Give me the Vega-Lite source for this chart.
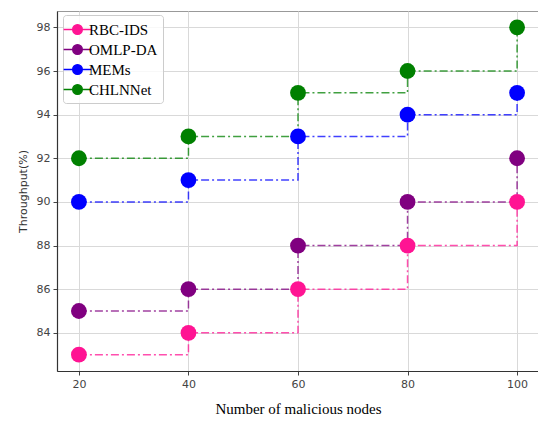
{
  "$schema": "https://vega.github.io/schema/vega-lite/v6.json",
  "width": 482,
  "height": 360,
  "autosize": {"type": "none"},
  "padding": {"left": 57, "top": 11, "right": 0, "bottom": 51},
  "background": "white",
  "config": {
    "view": {"stroke": "#999999", "strokeWidth": 1},
    "axis": {
      "labelFont": "DejaVu Sans", "labelFontSize": 11, "labelColor": "#444444",
      "tickColor": "#444444", "tickSize": 4, "domainColor": "#333333", "domainWidth": 1.2,
      "gridColor": "#d9d9d9", "gridWidth": 1
    }
  },
  "data": {
    "values": [
      {"nodes": 20, "method": "RBC-IDS", "throughput": 83},
      {"nodes": 40, "method": "RBC-IDS", "throughput": 84},
      {"nodes": 60, "method": "RBC-IDS", "throughput": 86},
      {"nodes": 80, "method": "RBC-IDS", "throughput": 88},
      {"nodes": 100, "method": "RBC-IDS", "throughput": 90},
      {"nodes": 20, "method": "OMLP-DA", "throughput": 85},
      {"nodes": 40, "method": "OMLP-DA", "throughput": 86},
      {"nodes": 60, "method": "OMLP-DA", "throughput": 88},
      {"nodes": 80, "method": "OMLP-DA", "throughput": 90},
      {"nodes": 100, "method": "OMLP-DA", "throughput": 92},
      {"nodes": 20, "method": "MEMs", "throughput": 90},
      {"nodes": 40, "method": "MEMs", "throughput": 91},
      {"nodes": 60, "method": "MEMs", "throughput": 93},
      {"nodes": 80, "method": "MEMs", "throughput": 94},
      {"nodes": 100, "method": "MEMs", "throughput": 95},
      {"nodes": 20, "method": "CHLNNet", "throughput": 92},
      {"nodes": 40, "method": "CHLNNet", "throughput": 93},
      {"nodes": 60, "method": "CHLNNet", "throughput": 95},
      {"nodes": 80, "method": "CHLNNet", "throughput": 96},
      {"nodes": 100, "method": "CHLNNet", "throughput": 98}
    ]
  },
  "encoding": {
    "x": {
      "field": "nodes", "type": "quantitative",
      "scale": {"domain": [16, 104], "nice": false, "zero": false},
      "axis": {"values": [20, 40, 60, 80, 100], "title": "Number of malicious nodes",
        "titleFont": "Liberation Serif", "titleFontSize": 15, "titleFontWeight": "normal",
        "titleColor": "#000000", "titlePadding": 12, "labelPadding": 3}
    },
    "y": {
      "field": "throughput", "type": "quantitative",
      "scale": {"domain": [82.25, 98.75], "nice": false, "zero": false},
      "axis": {"values": [84, 86, 88, 90, 92, 94, 96, 98], "title": "Throughput(%)",
        "titleFont": "DejaVu Sans", "titleFontSize": 11, "titleFontWeight": "normal",
        "titleColor": "#333333", "titlePadding": 8, "labelPadding": 3}
    },
    "color": {
      "field": "method", "type": "nominal",
      "scale": {"domain": ["RBC-IDS", "OMLP-DA", "MEMs", "CHLNNet"],
        "range": ["#ff1493", "#800080", "#0000ff", "#008000"]},
      "legend": {
        "title": null, "orient": "none", "legendX": 6, "legendY": 4,
        "labelFont": "Liberation Serif", "labelFontSize": 15, "labelColor": "#000000",
        "symbolType": "M -1.6 0 L 1.6 0 M 0.55 0 A 0.55 0.55 0 1 1 -0.55 0 A 0.55 0.55 0 1 1 0.55 0 Z",
        "symbolSize": 300, "symbolStrokeWidth": 1.5, "symbolOpacity": 1,
        "rowPadding": 2, "padding": 5, "labelOffset": 2,
        "fillColor": "rgba(255,255,255,0.8)", "strokeColor": "#cccccc", "cornerRadius": 3
      }
    }
  },
  "layer": [
    {
      "mark": {"type": "line", "interpolate": "step-after", "strokeDash": [8, 3, 2, 3], "strokeWidth": 1.5, "opacity": 0.75}
    },
    {
      "mark": {"type": "point", "shape": "circle", "filled": true, "size": 250, "opacity": 1}
    }
  ]
}
